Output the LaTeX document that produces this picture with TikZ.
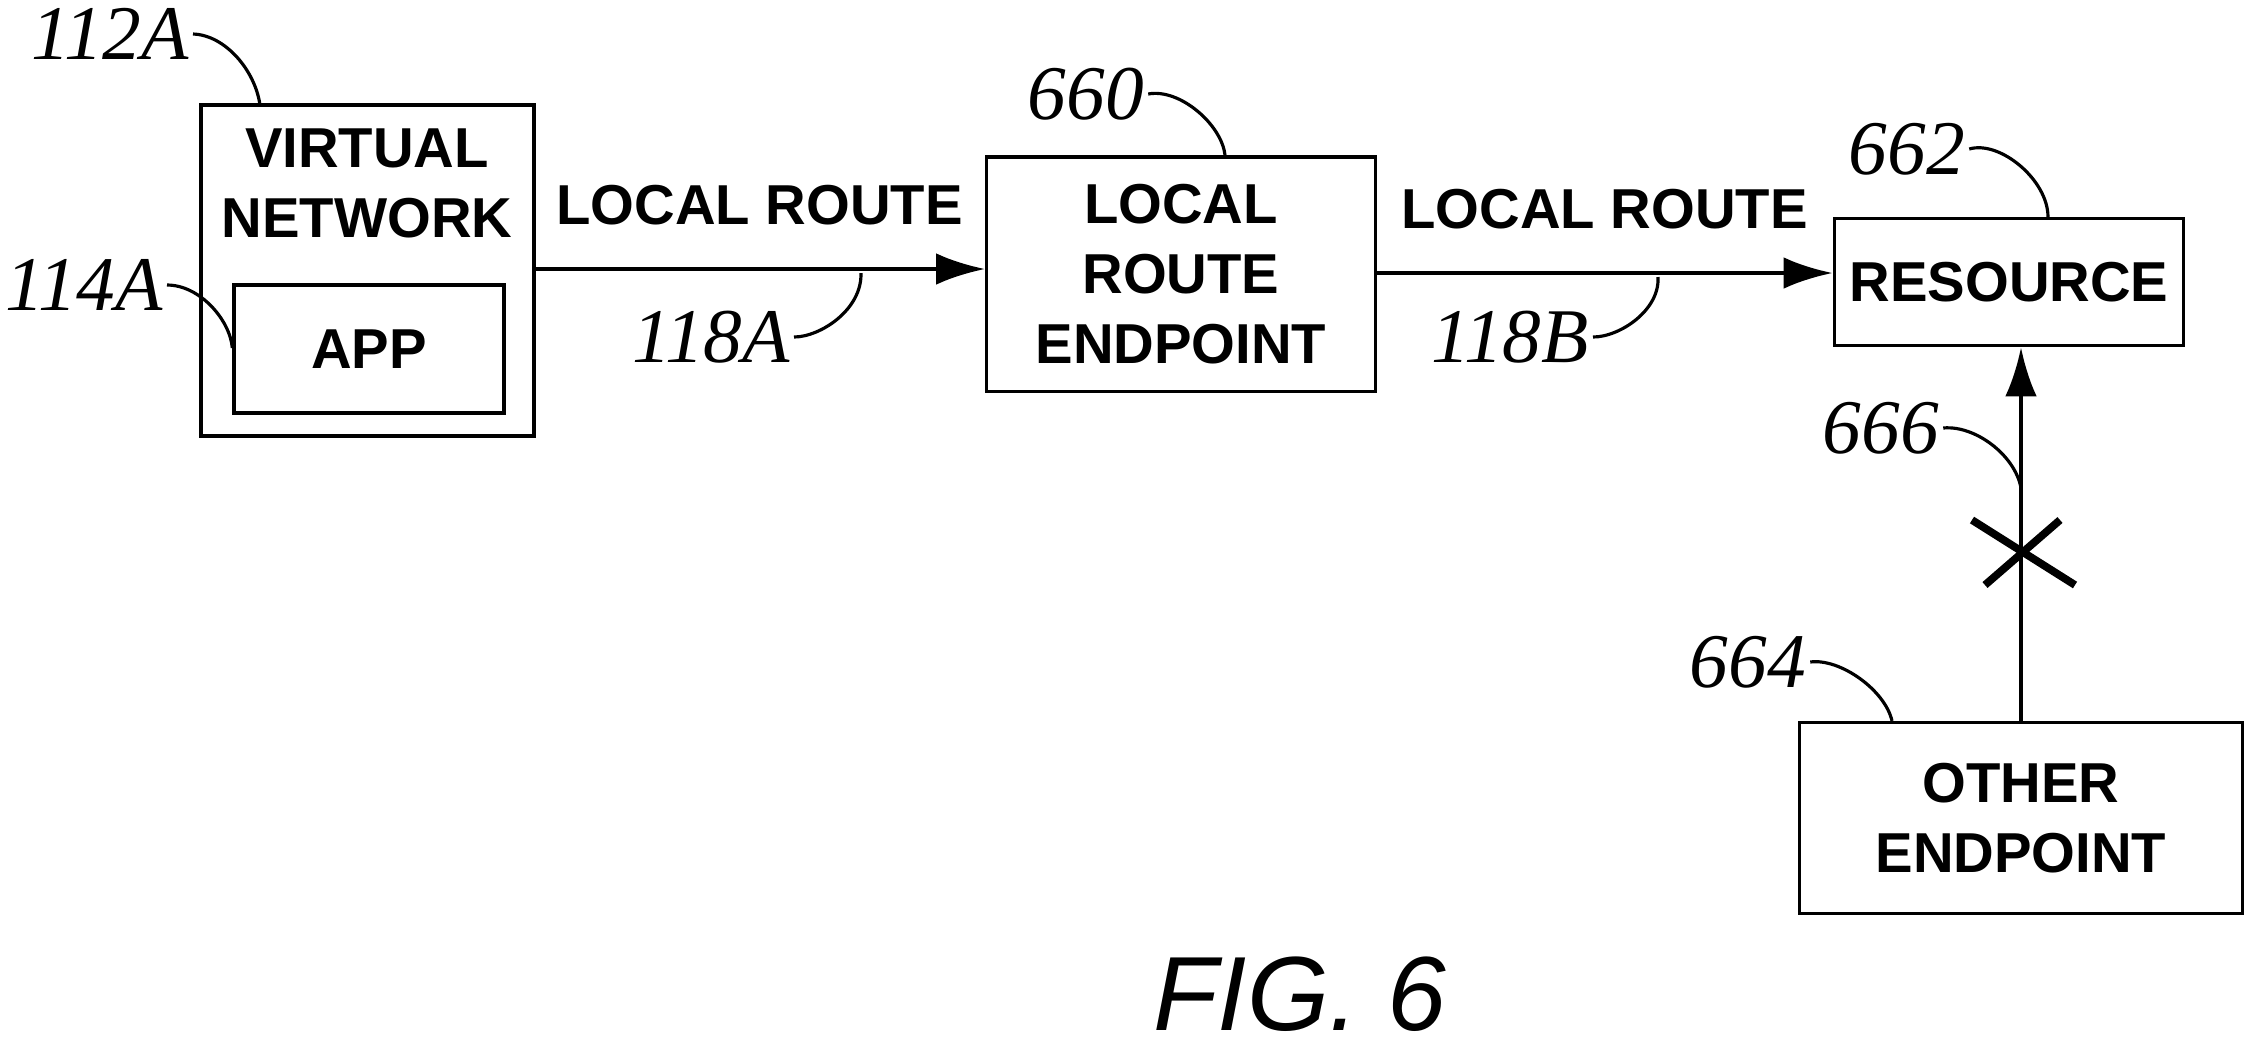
\documentclass[tikz,border=0pt]{standalone}
\usepackage{fontspec}
\setmainfont{Liberation Sans}
\newfontfamily\reffont{Liberation Serif}
\usetikzlibrary{positioning,arrows.meta}
\begin{document}
\begin{tikzpicture}[x=0.01cm,y=-0.01cm]
	\tikzstyle{box}=[draw, line width=0.9pt, align=center, font=\fontsize{16}{20}\selectfont\bfseries, inner sep=0pt]
	\tikzstyle{ref}=[font=\fontsize{22}{24}\selectfont\reffont\itshape, inner sep=1pt]
	\tikzstyle{lead}=[line width=0.9pt]
	\tikzstyle{flow}=[line width=1.3pt, -{Latex[length=14pt,width=9pt]}]
	\useasboundingbox (0,0) rectangle (2265,1047);
	% boxes
	\draw[line width=0.9pt] (201,105) rectangle (534,436);
	\node[box, draw=none, anchor=north] (vn) at (367,127) {VIRTUAL\\NETWORK};
	\node[box, minimum width=2.70cm, minimum height=1.28cm] (app) at (369,349) {APP};
	\node[box, minimum width=3.88cm, minimum height=2.34cm] (lre) at (1181,274) {LOCAL\\ROUTE\\ENDPOINT};
	\node[box, minimum width=3.49cm, minimum height=1.27cm] (res) at (2009,282) {RESOURCE};
	\node[box, minimum width=4.43cm, minimum height=1.91cm] (oth) at (2021,818) {OTHER\\ENDPOINT};
	\coordinate (vnr) at (534,269);
	\coordinate (vntop) at (260,105);
	% connectors
	\draw[flow] (vnr) -- node[box, draw=none, above=12pt] {LOCAL ROUTE} (vnr -| lre.west);
	\draw[flow] (lre.east |- 0,273) -- node[box, draw=none, above=12pt] {LOCAL ROUTE} (res.west |- 0,273);
	\draw[flow] (oth.north -| 2021,0) -- (res.south -| 2021,0);
	\coordinate (xc) at (2022,553);
	\draw[line width=2.2pt] (1972,520) -- (2075,585);
	\draw[line width=2.2pt] (1985,585) -- (2060,520);
	% reference labels
	\node[ref] (l112) at (110,34) {112A};
	\draw[lead] (l112.east) .. controls (225,35) and (255,70) .. (vntop);
	\node[ref] (l114) at (84,285) {114A};
	\draw[lead] (l114.east) .. controls (200,285) and (230,320) .. (app.west |- 0,348);
	\node[ref] (l660) at (1086,94) {660};
	\draw[lead] (l660.east) .. controls (1180,88) and (1222,125) .. (lre.north -| 1225,0);
	\node[ref] (l118a) at (711,337) {118A};
	\draw[lead] (l118a.east) .. controls (820,337) and (862,310) .. (861,273);
	\node[ref] (l662) at (1907,149) {662};
	\draw[lead] (l662.east) .. controls (2000,140) and (2048,180) .. (res.north -| 2048,0);
	\node[ref] (l118b) at (1510,337) {118B};
	\draw[lead] (l118b.east) .. controls (1620,337) and (1660,310) .. (1658,277);
	\node[ref] (l666) at (1881,428) {666};
	\draw[lead] (l666.east) .. controls (1975,425) and (2015,455) .. (2021,488);
	\node[ref] (l664) at (1748,662) {664};
	\draw[lead] (l664.east) .. controls (1840,658) and (1885,690) .. (oth.north -| 1892,0);
	% caption
	\node[font=\fontsize{30}{34}\selectfont\itshape] (fig) at (1300,994) {FIG. 6};
\end{tikzpicture}
\end{document}
